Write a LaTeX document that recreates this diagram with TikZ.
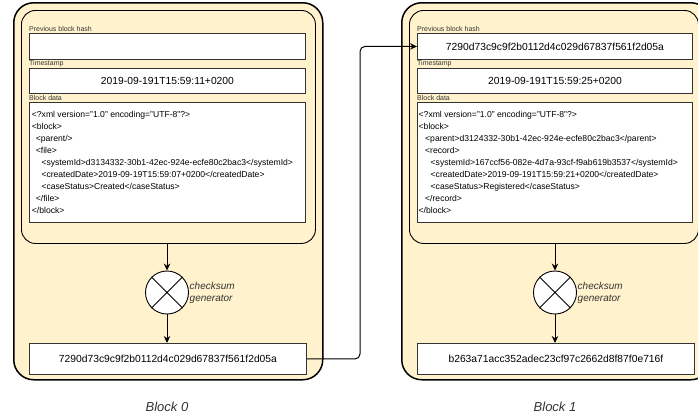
\documentclass[tikz,border=0pt]{standalone}
\usepackage{fontspec}
\setmainfont{Liberation Sans}
\usetikzlibrary{arrows.meta}
\definecolor{peach}{HTML}{FFF2CC}
\definecolor{txtgray}{HTML}{333333}
\begin{document}
\begin{tikzpicture}[x=1pt,y=-1pt,
  outerbox/.style={draw=black, line width=1.5pt, fill=peach, rounded corners=20pt, anchor=north west, inner sep=0},
  innerbox/.style={draw=black, line width=0.9pt, rounded corners=14pt, anchor=north west, inner sep=0},
  fieldbox/.style={draw=black!80, line width=0.9pt, fill=white, inner sep=0, anchor=north west, minimum width=276pt, font=\fontsize{10.3}{12}\selectfont},
  fieldlabel/.style={anchor=west, inner sep=0, font=\fontsize{7}{8}\selectfont, text=txtgray},
  datatext/.style={anchor=north west, inner sep=0, align=left, font=\fontsize{8.6}{12}\selectfont},
  summer/.style={circle, draw=black, line width=0.9pt, fill=white, minimum size=43pt, inner sep=0},
  sumlabel/.style={anchor=west, inner sep=0, align=left, font=\fontsize{10}{12}\selectfont\itshape, text=txtgray},
  blocklabel/.style={inner sep=0, font=\fontsize{13}{15}\selectfont\itshape, text=txtgray},
  arrow/.style={-{Stealth[length=7pt,width=6.5pt]}, line width=1pt}]
\useasboundingbox (0,0) rectangle (698,416);
\clip (0,0) rectangle (698,416);

% ---------- Block 0 ----------
\node[outerbox, minimum width=309pt, minimum height=377pt] (outer0) at (13,2) {};
\node[innerbox, minimum width=294pt, minimum height=233pt] (inner0) at (21,10) {};
\node[fieldlabel] (lp0) at (29,29) {Previous block hash};
\node[fieldbox, minimum height=26pt] (prev0) at (29,33) {};
\node[fieldlabel] (lt0) at (29,63.5) {Timestamp};
\node[fieldbox, minimum height=25pt] (ts0) at (29,68) {2019-09-191T15:59:11+0200};
\node[fieldlabel] (ld0) at (29,97.5) {Block data};
\node[fieldbox, minimum height=120pt] (data0) at (29,102) {};
\node[datatext] (xml0) at (31.7,111.2) {%
<?xml version="1.0" encoding="UTF-8"?>\\
<block>\\
\hspace*{4pt}<parent/>\\
\hspace*{4pt}<file>\\
\hspace*{9.6pt}<systemId>d3134332-30b1-42ec-924e-ecfe80c2bac3</systemId>\\
\hspace*{9.6pt}<createdDate>2019-09-19T15:59:07+0200</createdDate>\\
\hspace*{9.6pt}<caseStatus>Created</caseStatus>\\
\hspace*{4pt}</file>\\
</block>};
\node[summer] (sum0) at (167,292.5) {};
\draw[line width=0.9pt] (sum0.north east) -- (sum0.south west) (sum0.north west) -- (sum0.south east);
\node[sumlabel] (sl0) at (189.5,293) {checksum\\generator};
\node[fieldbox, minimum width=277pt, minimum height=31pt] (out0) at (29,343) {7290d73c9c9f2b0112d4c029d67837f561f2d05a};
\draw[arrow] (inner0.south -| sum0) -- (sum0.north);
\draw[arrow] (sum0.south) -- (out0.north -| sum0);
\node[blocklabel] (bl0) at (167,407) {Block 0};

% ---------- Block 1 ----------
\node[outerbox, minimum width=309pt, minimum height=377pt] (outer1) at (401,2) {};
\node[innerbox, minimum width=289pt, minimum height=233pt] (inner1) at (409,10) {};
\node[fieldlabel] (lp1) at (417,29) {Previous block hash};
\node[fieldbox, minimum height=26pt, minimum width=275pt] (prev1) at (417,33) {7290d73c9c9f2b0112d4c029d67837f561f2d05a};
\node[fieldlabel] (lt1) at (417,63.5) {Timestamp};
\node[fieldbox, minimum height=25pt, minimum width=275pt] (ts1) at (417,68) {2019-09-191T15:59:25+0200};
\node[fieldlabel] (ld1) at (417,97.5) {Block data};
\node[fieldbox, minimum height=120pt, minimum width=275pt] (data1) at (417,102) {};
\node[datatext] (xml1) at (418.5,111.2) {%
<?xml version="1.0" encoding="UTF-8"?>\\
<block>\\
\hspace*{6.5pt}<parent>d3124332-30b1-42ec-924e-ecfe80c2bac3</parent>\\
\hspace*{6.5pt}<record>\\
\hspace*{12pt}<systemId>167ccf56-082e-4d7a-93cf-f9ab619b3537</systemId>\\
\hspace*{12pt}<createdDate>2019-09-191T15:59:21+0200</createdDate>\\
\hspace*{12pt}<caseStatus>Registered</caseStatus>\\
\hspace*{6.5pt}</record>\\
</block>};
\node[summer] (sum1) at (555,292.5) {};
\draw[line width=0.9pt] (sum1.north east) -- (sum1.south west) (sum1.north west) -- (sum1.south east);
\node[sumlabel] (sl1) at (577.5,293) {checksum\\generator};
\node[fieldbox, minimum width=277pt, minimum height=31pt] (out1) at (417,343) {b263a71acc352adec23cf97c2662d8f87f0e716f};
\draw[arrow] (inner1.south -| sum1) -- (sum1.north);
\draw[arrow] (sum1.south) -- (out1.north -| sum1);
\node[blocklabel] (bl1) at (555,407) {Block 1};

% ---------- link ----------
\coordinate (bend) at (360,200);
\draw[arrow, rounded corners=5pt] (out0.east) -- (out0.east -| bend) -- (prev1.west -| bend) -- (prev1.west);
\end{tikzpicture}
\end{document}
